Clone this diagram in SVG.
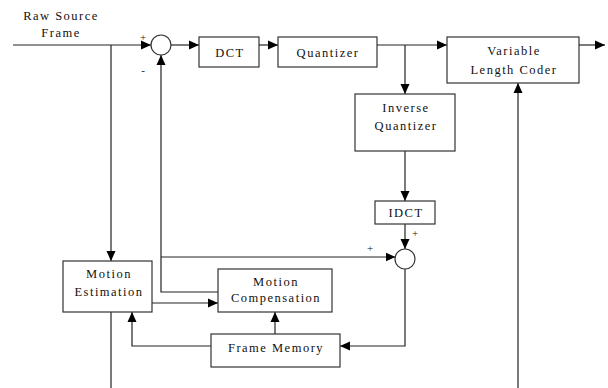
<svg xmlns="http://www.w3.org/2000/svg" width="608" height="388" viewBox="0 0 608 388">
<style>
.box{fill:#fff;stroke:#333;stroke-width:1.2}
.ln{fill:none;stroke:#222;stroke-width:1.2}
.t{font-family:'Liberation Serif','Times New Roman','DejaVu Serif',serif;font-size:12.5px;letter-spacing:1.5px;fill:#111;text-anchor:middle}
.s{font-family:'Liberation Serif','Times New Roman','DejaVu Serif',serif;font-size:11px;fill:#111;text-anchor:middle}
</style>
<defs>
<marker id="ah" markerUnits="userSpaceOnUse" markerWidth="10" markerHeight="10" refX="10" refY="4.5" orient="auto" viewBox="0 0 10 9">
<path d="M0,0 L10,4.5 L0,9 z" fill="#000"/>
</marker>
</defs>
<rect width="608" height="388" fill="#fff"/>
<g id="connectors">
<path class="ln" d="M13,45 H151" marker-end="url(#ah)"/>
<path class="ln" d="M111,45 V261" marker-end="url(#ah)"/>
<path class="ln" d="M171,45 H199" marker-end="url(#ah)"/>
<path class="ln" d="M259,45 H278" marker-end="url(#ah)"/>
<path class="ln" d="M377,45 H447" marker-end="url(#ah)"/>
<path class="ln" d="M405,45 V94" marker-end="url(#ah)"/>
<path class="ln" d="M579,45 H605" marker-end="url(#ah)"/>
<path class="ln" d="M405,151 V201" marker-end="url(#ah)"/>
<path class="ln" d="M405,224 V249" marker-end="url(#ah)"/>
<path class="ln" d="M218,292 H161 V55" marker-end="url(#ah)"/>
<path class="ln" d="M161,257 H395.5" marker-end="url(#ah)"/>
<path class="ln" d="M405,269 V346 H340" marker-end="url(#ah)"/>
<path class="ln" d="M152,303 H218" marker-end="url(#ah)"/>
<path class="ln" d="M275,334 V312" marker-end="url(#ah)"/>
<path class="ln" d="M211,346 H132 V312" marker-end="url(#ah)"/>
<path class="ln" d="M111,312 V388"/>
<path class="ln" d="M518,388 V83" marker-end="url(#ah)"/>
</g>
<g id="input-label">
<text class="t" x="61" y="20">Raw Source</text>
<text class="t" x="61" y="37">Frame</text>
</g>
<g id="sum1">
<circle class="box" cx="161" cy="45" r="10"/>
<text class="s" x="143" y="41">+</text>
<text class="s" x="143" y="74">-</text>
</g>
<g id="dct">
<rect class="box" x="199" y="37" width="60" height="30"/>
<text class="t" x="230" y="57">DCT</text>
</g>
<g id="quantizer">
<rect class="box" x="278" y="37" width="99" height="30"/>
<text class="t" x="328" y="57">Quantizer</text>
</g>
<g id="vlc">
<rect class="box" x="447" y="37" width="132" height="46"/>
<text class="t" x="514" y="55">Variable</text>
<text class="t" x="514" y="74">Length Coder</text>
</g>
<g id="iq">
<rect class="box" x="355" y="94" width="100" height="57"/>
<text class="t" x="406" y="112">Inverse</text>
<text class="t" x="406" y="130">Quantizer</text>
</g>
<g id="idct">
<rect class="box" x="375" y="201" width="60" height="23"/>
<text class="t" x="406" y="217">IDCT</text>
</g>
<g id="sum2">
<circle class="box" cx="405" cy="259" r="10"/>
<text class="s" x="415" y="237">+</text>
<text class="s" x="370" y="252">+</text>
</g>
<g id="me">
<rect class="box" x="63" y="261" width="89" height="51"/>
<text class="t" x="109" y="278">Motion</text>
<text class="t" x="109" y="296">Estimation</text>
</g>
<g id="mc">
<rect class="box" x="218" y="269" width="114" height="43"/>
<text class="t" x="276" y="286">Motion</text>
<text class="t" x="276" y="302">Compensation</text>
</g>
<g id="fm">
<rect class="box" x="211" y="334" width="129" height="33"/>
<text class="t" x="276" y="352">Frame Memory</text>
</g>
</svg>
